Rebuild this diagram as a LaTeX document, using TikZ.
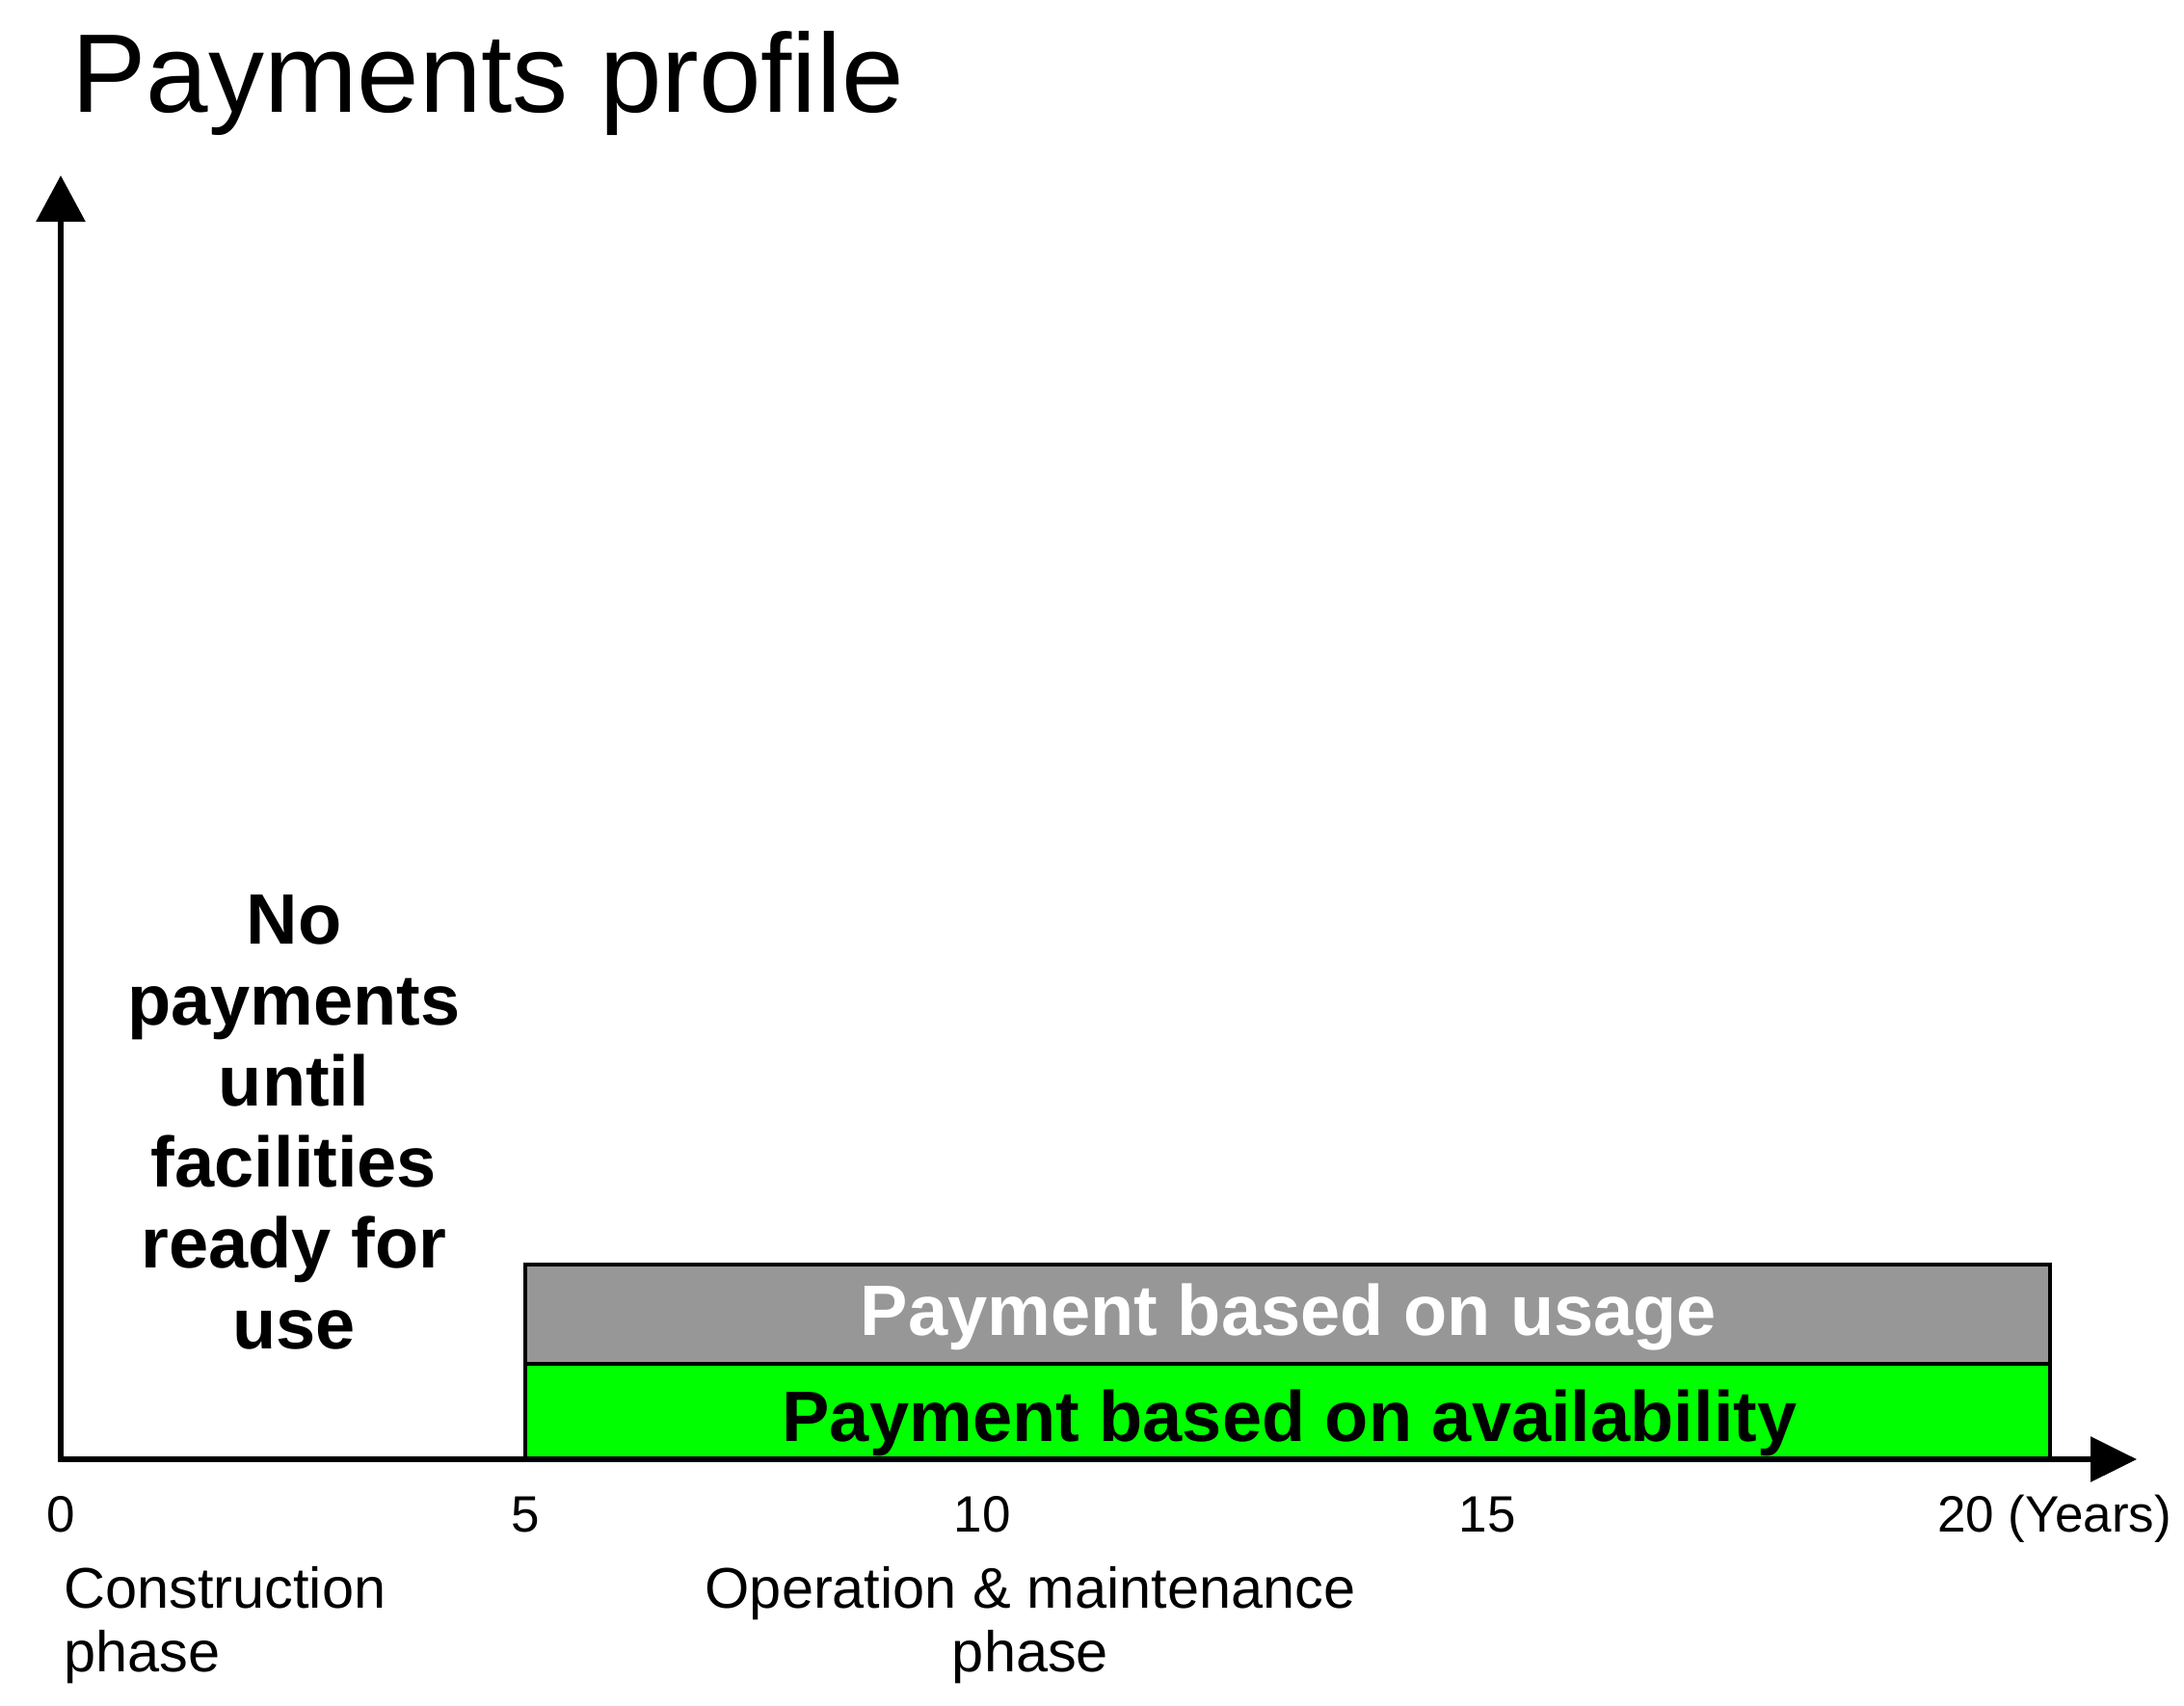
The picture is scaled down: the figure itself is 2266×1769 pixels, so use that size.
\documentclass[tikz,border=0pt]{standalone}
\usepackage{fontspec}
\setmainfont{Liberation Sans}
\usetikzlibrary{arrows.meta}
\definecolor{usagegray}{RGB}{151,151,151}
\definecolor{availgreen}{RGB}{0,255,0}
\begin{document}
\begin{tikzpicture}[x=1bp,y=-1bp,
  axisline/.style={line width=6bp, line join=miter, {Triangle[length=48bp,width=50bp]}-{Triangle[length=48bp,width=46bp]}},
  barbox/.style={draw=black, line width=4.5bp},
  titletext/.style={font=\fontsize{116bp}{130bp}\selectfont, inner sep=0pt, anchor=base west},
  ticktext/.style={font=\fontsize{53bp}{60bp}\selectfont, inner sep=0pt, anchor=base},
  phasetext/.style={font=\fontsize{59.5bp}{66bp}\selectfont, inner sep=0pt, anchor=base},
  boldtext/.style={font=\fontsize{74bp}{84bp}\selectfont\bfseries, inner sep=0pt, anchor=base},
]
\useasboundingbox (0,0) rectangle (2266,1769);
% bars
\coordinate (barTL) at (545,1312);
\coordinate (barMR) at (2127,1415);
\coordinate (barML) at (545,1415);
\coordinate (barBR) at (2127,1514);
\filldraw[barbox, fill=availgreen] (barML) rectangle (barBR);
\filldraw[barbox, fill=usagegray] (barTL) rectangle (barMR);
% axes
\coordinate (O) at (63,1514);
\coordinate (ytip) at (63,182);
\coordinate (xtip) at (2217,1514);
\draw[axisline] (ytip) -- (O) -- (xtip);
% title
\node[titletext] (title) at (74,116) {Payments profile};
% bar labels
\node[boldtext, text=white] (usage) at (1337,1385) {Payment based on usage};
\node[boldtext] (avail) at (1338,1495) {Payment based on availability};
% no payments (base anchor = last line)
\node[boldtext, align=center] (nopay) at (305,1399) {No\\payments\\until\\facilities\\ready for\\use};
% ticks
\node[ticktext] (t0) at (63,1589) {0};
\node[ticktext] (t5) at (545,1589) {5};
\node[ticktext] (t10) at (1019,1589) {10};
\node[ticktext] (t15) at (1543,1589) {15};
\node[ticktext, anchor=base west] (t20) at (2010,1589) {20 (Years)};
% phases (base anchor = last line)
\node[phasetext, anchor=base west, align=left] (cons) at (66,1734) {Construction\\phase};
\node[phasetext, align=center] (oper) at (1069,1734) {Operation \& maintenance\\phase};
\end{tikzpicture}
\end{document}
